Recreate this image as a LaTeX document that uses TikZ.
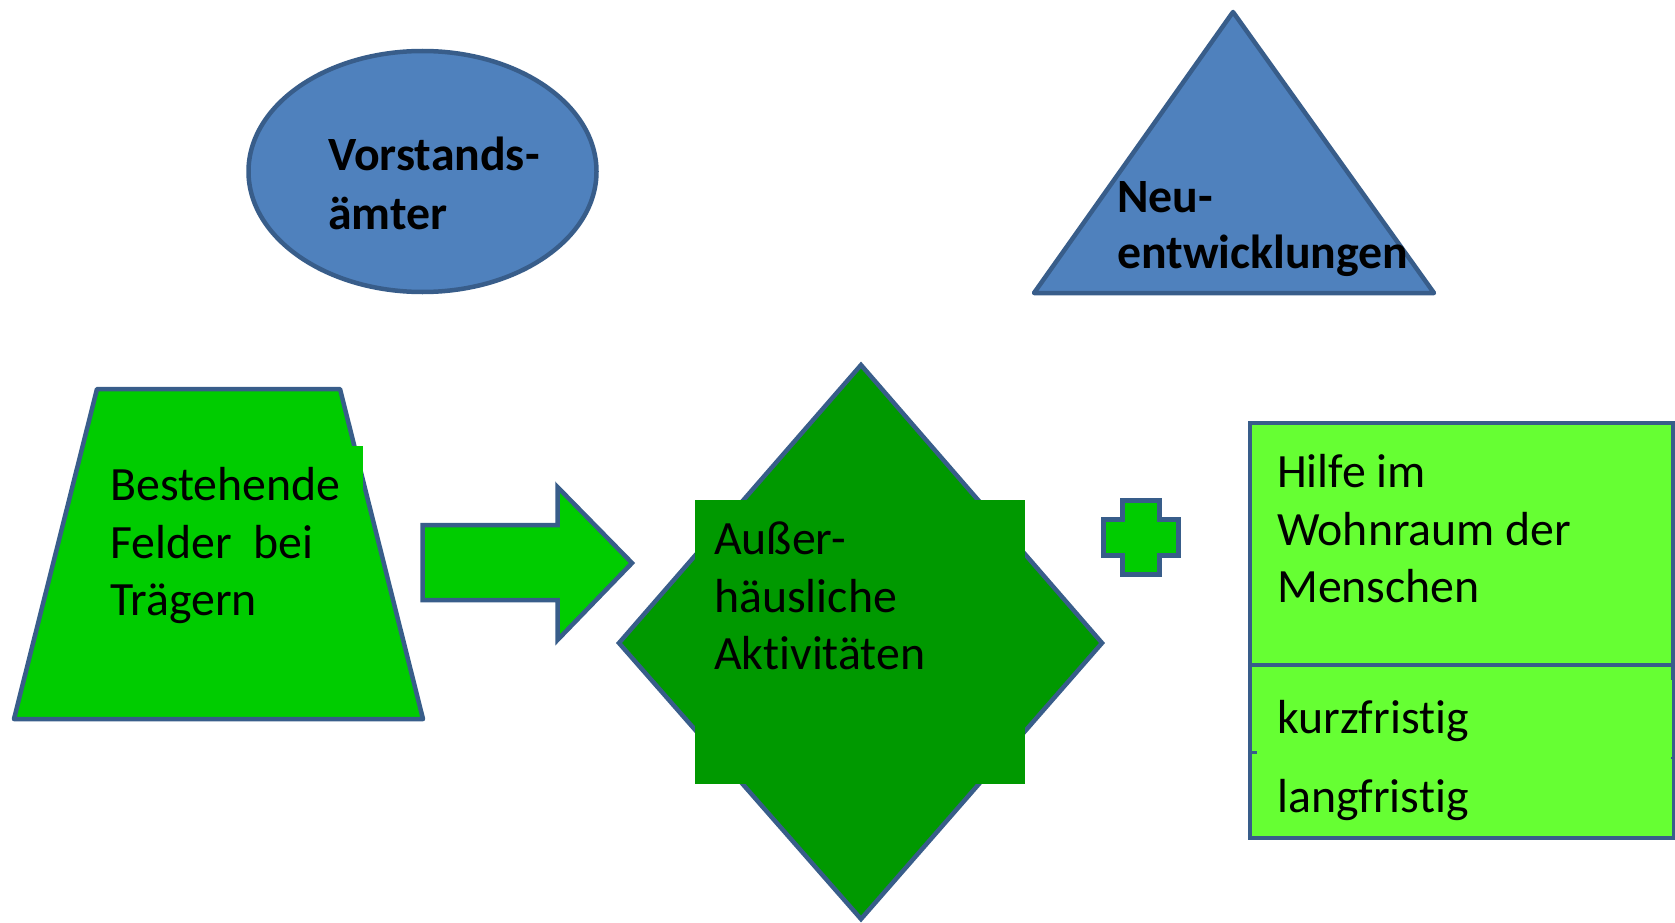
\documentclass[tikz,border=0pt]{standalone}
\usepackage{fontspec}
\setmainfont[RawFeature=-liga]{Carlito}
\definecolor{edge}{HTML}{385D8A}
\definecolor{bluefill}{HTML}{4F81BD}
\definecolor{midgreen}{HTML}{00CC00}
\definecolor{darkgreen}{HTML}{009900}
\definecolor{lightgreen}{HTML}{66FF33}
\tikzset{
  shapeline/.style={draw=edge, line width=4.5pt, line join=round},
  txt/.style={font=\fontsize{47.8}{58}\selectfont, inner sep=0pt, anchor=base west, text=black},
  btxt/.style={txt, font=\fontsize{47.8}{58}\selectfont\bfseries},
}
\begin{document}
\begin{tikzpicture}[x=1pt,y=-1pt]
\useasboundingbox (0,0) rectangle (1675,923);

% ellipse
\path[shapeline, fill=bluefill] (422.5,171.5) ellipse [x radius=174, y radius=120.5];
\node[btxt] (v1) at (328,170) {Vorstands-};
\node[btxt] (v2) at (328,229) {ämter};

% triangle
\path[shapeline, fill=bluefill] (1233,12) -- (1434,293) -- (1034,293) -- cycle;
\node[btxt] (n1) at (1117,212) {Neu-};
\node[btxt] (n2) at (1117,268) {entwicklungen};

% trapezoid
\path[shapeline, fill=midgreen] (97,389) -- (340,389) -- (423,719) -- (14,719) -- cycle;
\fill[midgreen] (100,446) rectangle (363,620);
\node[txt] (b1) at (110,500) {Bestehende};
\node[txt] (b2) at (110,558) {Felder~~bei};
\node[txt] (b3) at (110,615) {Trägern};

% arrow
\path[shapeline, line join=miter, fill=midgreen]
  (422.5,525) -- (557.5,525) -- (557.5,487) -- (632,563) -- (557.5,640)
  -- (557.5,600) -- (422.5,600) -- cycle;

% diamond
\path[shapeline, line join=miter, fill=darkgreen]
  (861,365) -- (1102,643) -- (861,919) -- (619,643) -- cycle;
\fill[darkgreen] (695,500) rectangle (1025,784);
\node[txt] (a1) at (714,554) {Außer-};
\node[txt] (a2) at (714,612) {häusliche};
\node[txt] (a3) at (714,669) {Aktivitäten};

% plus
\path[shapeline, line join=miter, fill=midgreen]
  (1122.5,500.5) -- (1159.5,500.5) -- (1159.5,519.5) -- (1178.5,519.5)
  -- (1178.5,555.5) -- (1159.5,555.5) -- (1159.5,574.5) -- (1122.5,574.5)
  -- (1122.5,555.5) -- (1103.5,555.5) -- (1103.5,519.5) -- (1122.5,519.5) -- cycle;

% right box
\path[shapeline, line join=miter, fill=lightgreen] (1250,423) rectangle (1673,665);
\path[shapeline, line join=miter, fill=lightgreen] (1250,665) rectangle (1673,838);
\fill[lightgreen] (1253,680) rectangle (1672,757);
\fill[lightgreen] (1253,759) rectangle (1672,835.5);
\draw[edge, line width=3pt] (1251,752) -- (1257,752);
\draw[edge, line width=1pt] (1671,758) -- (1675,758);
\node[txt] (h1) at (1277,487) {Hilfe im};
\node[txt] (h2) at (1277,545) {Wohnraum der};
\node[txt] (h3) at (1277,602) {Menschen};
\node[txt] (k1) at (1277,733) {kurzfristig};
\node[txt] (l1) at (1277,812) {langfristig};
\end{tikzpicture}
\end{document}
